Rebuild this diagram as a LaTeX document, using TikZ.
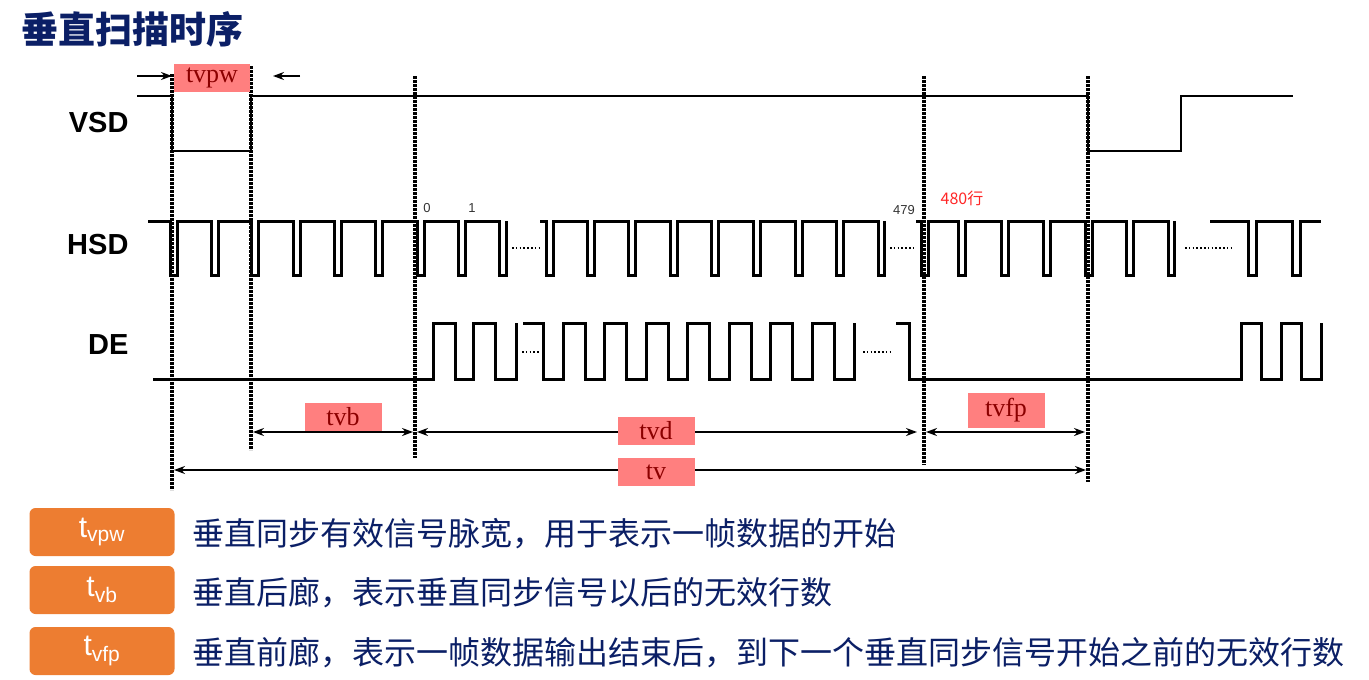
\documentclass[tikz,border=0pt]{standalone}
\usepackage{fontspec}
\setmainfont{Liberation Serif}
\setsansfont{Liberation Sans}
\newfontfamily\cjk{Noto Sans CJK SC}
\usetikzlibrary{arrows.meta}
\definecolor{navy}{HTML}{0B1F66}
\definecolor{org}{HTML}{ED7D31}
\definecolor{lblbg}{HTML}{FF7F7F}
\definecolor{lbltx}{HTML}{8B0000}
\tikzset{
 x=1pt,y=-1pt,
 wave/.style={line width=3pt,line join=miter},
 thin wave/.style={line width=2pt},
 vdash/.style={line width=3.6pt,dash pattern=on 2.6pt off 1.4pt},
 dots/.style={line width=1.8pt,dash pattern=on 1.6pt off 2.2pt},
 dim/.style={line width=2.2pt,{Stealth[length=11pt,width=8pt]}-{Stealth[length=11pt,width=8pt]}},
 onearrow/.style={line width=2.2pt,-{Stealth[length=11pt,width=8pt]}},
 lbl/.style={fill=lblbg,text=lbltx,font=\fontsize{26}{26}\selectfont,inner sep=0pt,minimum width=77pt,minimum height=28pt},
 sig/.style={font=\sffamily\bfseries\fontsize{29}{29}\selectfont,anchor=east},
 obox/.style={fill=org,rounded corners=6pt,minimum width=145pt,minimum height=48pt,inner sep=0pt,text=white,font=\sffamily\fontsize{30}{30}\selectfont},
 desc/.style={anchor=west,text=navy,font=\cjk\fontsize{32}{32}\selectfont,inner sep=0pt},
 num/.style={font=\sffamily\fontsize{13}{13}\selectfont,text=black!80,inner sep=0pt}
}
\begin{document}
\begin{tikzpicture}
\useasboundingbox (0,0) rectangle (1369,680);
\node[anchor=west,text=navy,font=\cjk\bfseries\fontsize{37}{37}\selectfont,inner sep=0pt] (title) at (21,29) {垂直扫描时序};
% signal labels
\node[sig] (vsd) at (132,123) {VSD};
\node[sig] (hsd) at (132,245) {HSD};
\node[sig] (de) at (132,345) {DE};
% vertical dashed lines
\coordinate (d1t) at (172,74); \coordinate (d1b) at (172,490);
\coordinate (d2t) at (251,66); \coordinate (d2b) at (251,450);
\coordinate (d3t) at (415,76); \coordinate (d3b) at (415,458);
\coordinate (d4t) at (924,76); \coordinate (d4b) at (924,465);
\coordinate (d5t) at (1088,76); \coordinate (d5b) at (1088,482);
% VSD
\draw[thin wave] (137,96) -- (172,96) -- (172,151) -- (251,151) -- (251,96) -- (1088,96) -- (1088,151) -- (1181,151) -- (1181,96) -- (1293,96);
% HSD
\draw[wave] (148,221) \foreach \x in {170,211,251,293,334,375,417,458}{ -- (\x,221) -- (\x,275) -- (\x+7,275) -- (\x+7,221)} -- (499,221) -- (499,275) -- (506,275) -- (506,221);
\draw[wave] (540,221) \foreach \x in {546,587,628,670,711,753,795,836}{ -- (\x,221) -- (\x,275) -- (\x+7,275) -- (\x+7,221)} -- (878,221) -- (878,275) -- (884,275) -- (884,221);
\draw[wave] (916,221) \foreach \x in {921,958,1001,1043,1085,1126}{ -- (\x,221) -- (\x,275) -- (\x+7,275) -- (\x+7,221)} -- (1168,221) -- (1168,275) -- (1174,275) -- (1174,221);
\draw[wave] (1210,221) \foreach \x in {1248,1292}{ -- (\x,221) -- (\x,275) -- (\x+8,275) -- (\x+8,221)} -- (1321,221);
\draw[dots] (512,248) -- (540,248);
\draw[dots] (890,248) -- (916,248);
\draw[dots] (1185,248) -- (1234,248);
% DE
\draw[wave] (153,379) \foreach \x in {433,473}{ -- (\x,379) -- (\x,323) -- (\x+22,323) -- (\x+22,379)} -- (516,379) -- (516,323);
\draw[wave] (523,323) -- (543,323) -- (543,379) \foreach \x in {563,604,646,687,729,770,812}{ -- (\x,379) -- (\x,323) -- (\x+22,323) -- (\x+22,379)} -- (854,379) -- (854,323);
\draw[wave] (896,323) -- (909,323) -- (909,379) \foreach \x in {1241,1281}{ -- (\x,379) -- (\x,323) -- (\x+20,323) -- (\x+20,379)} -- (1321,379) -- (1321,323);
\draw[dots] (522,352) -- (540,352);
\draw[dots] (863,352) -- (892,352);
% numbers
\node[num] (n0) at (427,208) {0};
\node[num] (n1) at (472,208) {1};
\node[num] (n479) at (904,210) {479};
\node[text=red!85,font=\cjk\fontsize{16}{16}\selectfont,inner sep=0pt] (n480) at (962,198) {480行};
% dashed lines drawn
\foreach \i in {1,...,5}{\draw[vdash] (d\i t) -- (d\i b);}
% tvpw arrows
\coordinate (a1) at (137,76); \coordinate (a2) at (300,76);
\draw[onearrow] (a1) -- (d1t |- a1);
\draw[onearrow] (a2) -- (273,76);
\node[lbl,minimum width=76pt] (tvpw) at (212,78) {tvpw};
% dimension arrows
\draw[dim] (253,432) -- (413,432);
\draw[dim] (417,432) -- (917,432);
\draw[dim] (926,432) -- (1085,432);
\draw[dim] (174,470) -- (1086,470);
\node[lbl] (tvb) at (343,417) {tvb};
\node[lbl] (tvd) at (656,431) {tvd};
\node[lbl] (tv) at (656,472) {tv};
\node[lbl,minimum height=35pt] (tvfp) at (1006,410) {tvfp};
% bottom legend
\node[obox] (b1) at (102,532) {t\textsubscript{vpw}};
\node[obox] (b2) at (102,590) {t\textsubscript{vb}};
\node[obox] (b3) at (102,651) {t\textsubscript{vfp}};
\node[desc] (t1) at (192,534) {垂直同步有效信号脉宽，用于表示一帧数据的开始};
\node[desc] (t2) at (192,593) {垂直后廊，表示垂直同步信号以后的无效行数};
\node[desc] (t3) at (192,653) {垂直前廊，表示一帧数据输出结束后，到下一个垂直同步信号开始之前的无效行数};
\end{tikzpicture}
\end{document}
